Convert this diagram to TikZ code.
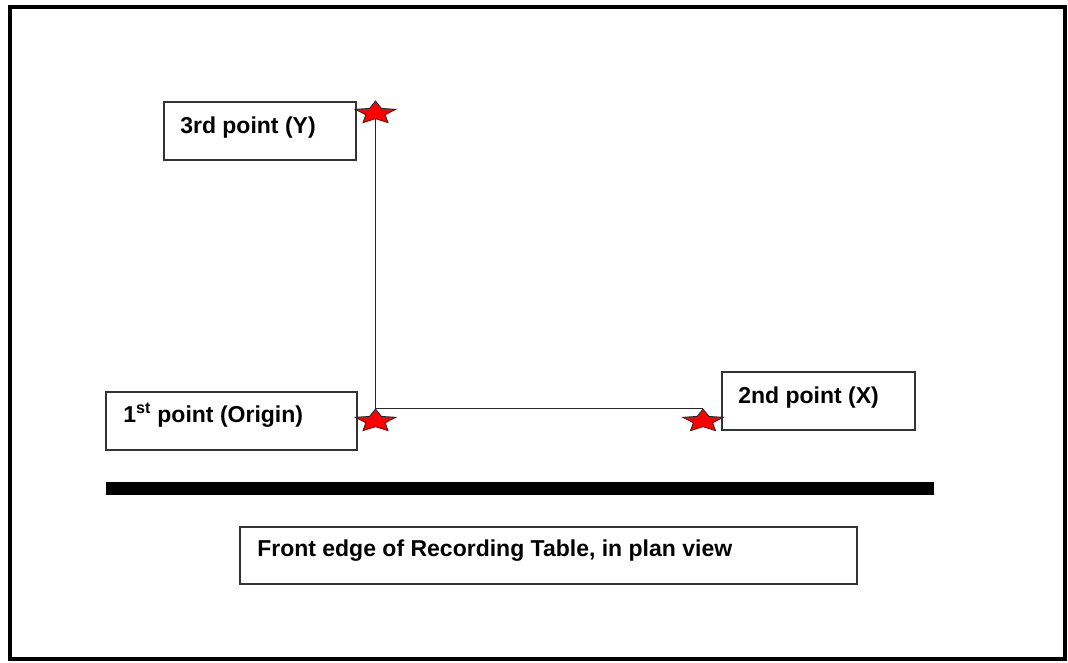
\documentclass[tikz,border=0pt]{standalone}
\usepackage{fontspec}
\setmainfont{Liberation Sans}
\usetikzlibrary{shapes.geometric,calc}
\begin{document}
\begin{tikzpicture}[x=0.75pt,y=-0.75pt,
  box/.style={draw=black!80,line width=1.5pt,fill=white,inner sep=0pt},
  lbl/.style={anchor=base west,inner sep=0pt,font=\bfseries\fontsize{17.25pt}{20pt}\selectfont},
  redstar/.style={star,star points=5,star point ratio=2.1,draw=black!85,line width=0.6pt,
    fill=red,inner sep=0pt,minimum size=32pt,transform shape,yscale=0.56},
  thinline/.style={draw=black!85,line width=1.1pt}]
\useasboundingbox (0,0) rectangle (1068,663);
% outer frame
\draw[line width=3pt] (10,7.5) rectangle (1064.5,659);
% boxes
\node[box,minimum width={192*0.75pt},minimum height={58*0.75pt}] (boxY) at (260,131) {};
\node[box,minimum width={251*0.75pt},minimum height={58*0.75pt}] (boxO) at (231.5,421) {};
\node[box,minimum width={193*0.75pt},minimum height={58*0.75pt}] (boxX) at (818.5,401) {};
\node[box,minimum width={617*0.75pt},minimum height={57*0.75pt}] (boxF) at (548.5,555.5) {};
% labels
\node[lbl] (tY) at ($(boxY.north west)+(17,33)$) {3rd point (Y)};
\node[lbl] (tO) at ($(boxO.north west)+(18,31)$) {1\textsuperscript{st} point (Origin)};
\node[lbl] (tX) at ($(boxX.north west)+(17,32)$) {2nd point (X)};
\node[lbl] (tF) at ($(boxF.north west)+(18,30)$) {Front edge of Recording Table, in plan view};
% table edge bar
\coordinate (barL) at (106,488.5);
\coordinate (barR) at (934,488.5);
\draw[line width={13*0.75pt}] (barL) -- (barR);
% stars
\node[redstar] (sY) at (375.5,113) {};
\node[redstar] (sO) at (375.5,421) {};
\node[redstar] (sX) at (703,421) {};
% connectors
\draw[thinline] (sY.south) -- (sO.north);
\draw[thinline] (sO.north) -- (sX.north);
\end{tikzpicture}
\end{document}
